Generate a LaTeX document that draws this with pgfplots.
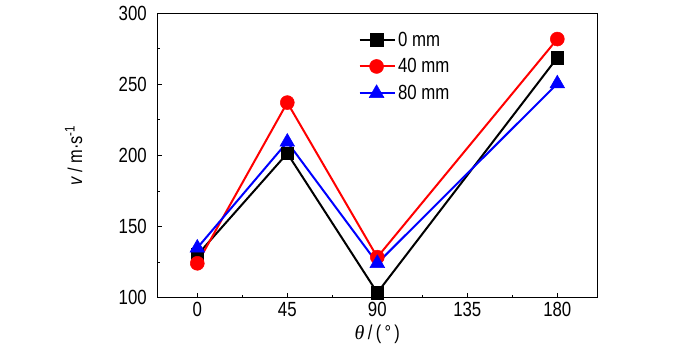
\documentclass[border=0pt]{standalone}
\usepackage{pgfplots}
\pgfplotsset{compat=1.18}
\usepackage{fontspec}
\setmainfont{Liberation Sans}
\newfontfamily\narrow[FakeStretch=0.82]{Liberation Sans}
\newfontfamily\serifgreek{Liberation Serif}
\begin{document}
\begin{tikzpicture}
\path (0,0) rectangle (700pt,357pt);
\begin{axis}[
  at={(157.3pt,59.3pt)}, anchor=south west,
  scale only axis, width=440pt, height=284.4pt,
  xmin=-20, xmax=200, ymin=100, ymax=300,
  xtick={0,45,90,135,180}, ytick={100,150,200,250,300},
  minor xtick={22.5,67.5,112.5,157.5}, minor ytick={125,175,225,275},
  tick align=inside, xtick pos=bottom, ytick pos=left,
  major tick length=5pt, minor tick length=3pt,
  axis line style={line width=1.2pt}, every tick/.style={line width=1pt,black},
  tick label style={font=\narrow\fontsize{20.5}{23}\selectfont},
  /pgf/number format/assume math mode=true,
  /pgf/number format/1000 sep={},
  xticklabel style={yshift=-1pt},
  yticklabel style={xshift=-7pt},
  xlabel={{\serifgreek\itshape θ}\,/\,(\,°\,)},
  ylabel={{\itshape v} / m·s\textsuperscript{-1}},
  label style={font=\narrow\fontsize{20}{22}\selectfont},
  xlabel style={at={(axis description cs:0.5,-0.13)}, anchor=center},
  ylabel style={at={(axis description cs:-0.19,0.5)}, anchor=center},
  legend style={at={(0.45,0.95)}, anchor=north west, draw=none, fill=none,
    font=\narrow\fontsize{20.5}{23}\selectfont, row sep=7pt},
  legend cell align=left,
  legend image code/.code={\draw[mark repeat=2,mark phase=2] plot coordinates {(0cm,0cm) (0.6cm,0cm) (1.25cm,0cm)};},
]
\addplot[black, line width=2pt, mark=square*, mark size=6.3pt, mark options={line width=0.5pt}] coordinates {(0,130) (45,201.5) (90,103.5) (180,268.8)};
\addlegendentry{0 mm}
\addplot[red, line width=2pt, mark=*, mark size=7pt, mark options={line width=0.5pt}] coordinates {(0,124.2) (45,237.2) (90,128.5) (180,281.9)};
\addlegendentry{40 mm}
\addplot[blue, line width=2pt, mark=triangle*, mark size=8.5pt, mark options={line width=0.5pt}] coordinates {(0,135) (45,209.5) (90,124.2) (180,250.5)};
\addlegendentry{80 mm}
\end{axis}
\end{tikzpicture}
\end{document}
